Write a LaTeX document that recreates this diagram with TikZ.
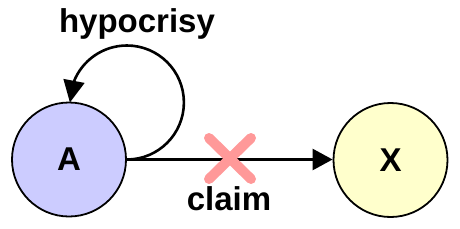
\documentclass[tikz,border=0pt]{standalone}
\usepackage{fontspec}
\setmainfont{Liberation Sans}
\usetikzlibrary{arrows.meta,bending}
\begin{document}
\begin{tikzpicture}[x=1pt,y=1pt,
  state/.style={circle,draw=black,line width=1.8pt,minimum size=114pt,inner sep=0pt,font=\fontsize{33}{40}\selectfont\bfseries},
  lbl/.style={font=\fontsize{33}{40}\selectfont\bfseries,inner sep=0pt,anchor=base},
  edge/.style={line width=2.6pt,-{Triangle[length=20pt,width=21pt]}},
  loopedge/.style={line width=2.6pt,-{Triangle[length=22pt,width=21pt,flex=1]}},
  cross/.style={line width=10pt,line cap=round,draw={rgb,255:red,255;green,153;blue,153}}]
\useasboundingbox (0,0) rectangle (460,228);
\node[state,fill={rgb,255:red,204;green,204;blue,255}] (A) at (69,68.5) {A};
\node[state,fill={rgb,255:red,255;green,255;blue,204}] (X) at (390.5,68) {X};
\draw[loopedge] (A.east) arc[start angle=-90,end angle=180,radius=57pt];
\node[lbl] (hyp) at (137,195) {hypocrisy};
\draw[edge] (A.east) -- (X.west |- A.east);
\coordinate (c1) at (209,90);
\coordinate (c2) at (251,49);
\coordinate (c3) at (209,49);
\coordinate (c4) at (251,90);
\draw[cross] (c1) -- (c2);
\draw[cross] (c3) -- (c4);
\node[lbl] (claim) at (229,18) {claim};
\end{tikzpicture}
\end{document}
